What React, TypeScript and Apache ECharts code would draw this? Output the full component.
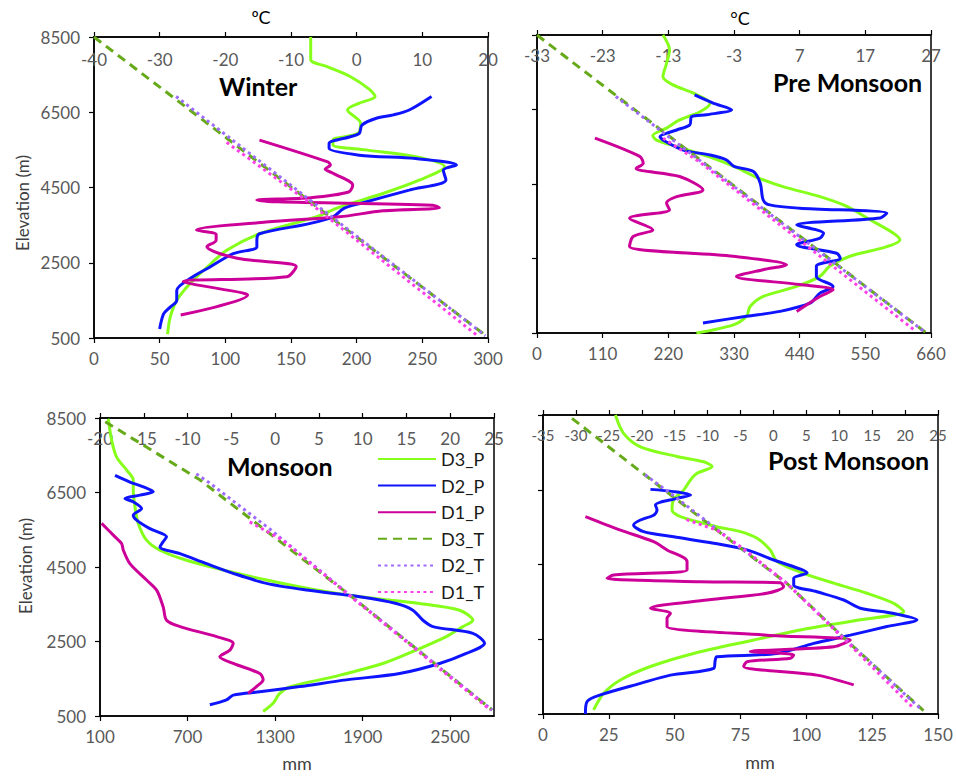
import React, { useEffect, useRef } from "react";
import * as echarts from "echarts";

// ---------- tick labels ----------
const ELEV_TICKS = [500, 2500, 4500, 6500, 8500];
const MONSOON_MM_TICKS = [100, 700, 1300, 1900, 2500];
const PRE_T_TICKS = [-33, -23, -13, -3, 7, 17, 27];
const SERIES_NAMES = ["D3_P", "D2_P", "D1_P", "D3_T", "D2_T", "D1_T"];
const PANEL_TITLES = ["Winter", "Pre Monsoon", "Monsoon", "Post Monsoon"];

// ---------- Winter: [mm, elevation] and [°C, elevation] ----------
const WINTER_D3_P = [[165,8500],[165,7900],[177,7720],[195,7450],[210,7100],[214,6920],[202,6740],[193,6560],[203,6210],[201,5940],[182,5760],[182,5630],[207,5500],[245,5320],[267,5050],[248,4700],[220,4340],[187,3980],[169,3720],[126,3270],[101,2830],[86,2380],[73,1940],[63,1500],[58,1050],[56,600]];
const WINTER_D2_P = [[257,6920],[240,6560],[228,6430],[215,6340],[204,6160],[202,5940],[195,5850],[179,5670],[179,5540],[202,5360],[245,5270],[276,5100],[266,4960],[268,4700],[240,4430],[202,4070],[190,3940],[182,3720],[164,3540],[126,3270],[124,3100],[124,2920],[106,2740],[88,2380],[75,2120],[63,1760],[63,1500],[58,1320],[53,1140],[50,740]];
const WINTER_D1_P = [[126,5760],[178,5180],[180,5100],[176,4990],[182,4880],[197,4560],[194,4380],[165,4230],[124,4170],[140,4120],[258,4030],[263,3960],[220,3880],[187,3720],[131,3580],[78,3370],[93,3250],[93,3100],[86,2930],[109,2620],[154,2400],[147,2130],[68,2000],[113,1700],[117,1640],[66,1110]];
const WINTER_D3_T = [[-40,8500],[19.7,560]];
const WINTER_D2_T = [[-27.5,6920],[19.6,560]];
const WINTER_D1_T = [[-19.8,5700],[-7.6,4150],[18.4,560]];

// ---------- Pre Monsoon ----------
const PRE_D3_P = [[211,8500],[222,8100],[217,7740],[211,7380],[228,7160],[262,6940],[290,6670],[273,6440],[239,6220],[217,6000],[194,5800],[200,5680],[240,5480],[290,5220],[330,4970],[365,4700],[412,4430],[474,4160],[519,3900],[558,3540],[597,3180],[608,3000],[586,2820],[524,2560],[490,2290],[474,2020],[435,1750],[379,1480],[357,1210],[351,950],[329,720],[267,500]];
const PRE_D2_P = [[264,6890],[295,6670],[326,6490],[284,6360],[259,6310],[256,6090],[234,5950],[206,5770],[211,5680],[245,5410],[290,5280],[317,5150],[330,4970],[362,4840],[374,4520],[379,4070],[390,3940],[440,3850],[586,3720],[575,3590],[435,3400],[480,3180],[474,3050],[435,2870],[502,2640],[508,2510],[468,2290],[468,2020],[496,1750],[474,1570],[457,1300],[407,1080],[351,950],[278,770]];
const PRE_D1_P = [[97,5730],[172,5240],[178,5060],[166,4920],[239,4700],[278,4340],[234,4160],[217,3990],[222,3810],[155,3580],[194,3270],[161,3090],[155,2820],[329,2560],[418,2330],[379,2200],[334,2020],[440,1800],[496,1660],[474,1480],[435,1080]];
const PRE_D3_T = [[-33,8500],[26.3,500]];
const PRE_D2_T = [[-21,6850],[25.8,560]];
const PRE_D1_T = [[-13.8,5730],[-8.3,5100],[24.6,560]];

// ---------- Monsoon ----------
const MONSOON_D3_P = [[157,8480],[180,7900],[214,7450],[283,7100],[328,6830],[328,6560],[340,6110],[362,5670],[419,5220],[511,4950],[693,4680],[944,4420],[1241,4150],[1583,3880],[1880,3700],[2290,3520],[2564,3340],[2655,3070],[2587,2900],[2473,2630],[2267,2270],[2039,1910],[1697,1550],[1400,1280],[1330,1100],[1286,840],[1218,620]];
const MONSOON_D2_P = [[203,6960],[305,6780],[397,6650],[465,6520],[374,6430],[271,6340],[328,6250],[385,6070],[328,5890],[351,5760],[442,5530],[556,5310],[533,5180],[511,5040],[648,4860],[830,4590],[1013,4330],[1241,4060],[1515,3880],[1880,3700],[2130,3520],[2244,3340],[2313,3070],[2381,2900],[2655,2720],[2735,2450],[2610,2180],[2427,1910],[2153,1640],[1788,1470],[1469,1290],[1195,1150],[1013,1060],[967,930],[853,800]];
const MONSOON_D1_P = [[111,5670],[203,5310],[248,5130],[260,4950],[305,4590],[419,4150],[488,3880],[533,3430],[556,3070],[648,2900],[899,2630],[1013,2450],[990,2270],[921,2090],[1013,1910],[1195,1640],[1218,1470],[1172,1290],[1115,1110]];
const MONSOON_D3_T = [[-19.4,8400],[-8.6,6840],[8.5,3750],[24.8,660]];
const MONSOON_D2_T = [[-9,7000],[-7.5,6760],[-0.5,5500],[8.5,3750],[24.8,660]];
const MONSOON_D1_T = [[-2.9,5710],[0.8,5230],[8.4,3750],[24.6,660]];

// ---------- Post Monsoon ----------
const POST_D3_P = [[27.5,8500],[30.6,8010],[37,7650],[50.9,7390],[61,7250],[64.2,7120],[58.5,6940],[56,6760],[53.4,6490],[49.6,6230],[49,5960],[52.2,5780],[66,5510],[75,5380],[81.3,5200],[86.3,4890],[88.9,4580],[99,4260],[110.4,4000],[123,3730],[133.2,3460],[137,3240],[120.5,3020],[97.7,2750],[80,2480],[57.2,2120],[40.8,1770],[29.4,1410],[23,1050],[19.2,610]];
const POST_D2_P = [[40.8,6510],[49.6,6450],[56,6360],[50.9,6270],[42.7,6090],[43.3,5960],[42,5820],[37,5690],[34.4,5560],[38.2,5380],[49.6,5240],[64.8,5070],[77.5,4890],[87.6,4620],[95.2,4440],[100.3,4280],[95.2,4130],[95.2,3950],[104,3770],[114.2,3550],[120.5,3330],[133.2,3190],[142,3020],[130.6,2840],[116.7,2610],[102.8,2390],[88.9,2120],[66,2030],[65.4,1940],[64.8,1720],[48.4,1540],[37,1320],[21.8,1010],[16.7,830],[16.1,500]];
const POST_D1_P = [[16.1,5780],[29.4,5420],[42,5110],[47.1,4890],[54.7,4580],[54.7,4350],[26.8,4220],[24.3,4130],[59.7,4040],[90.1,4010],[91.4,3910],[85,3730],[62.3,3550],[40.8,3330],[48.4,3190],[47.1,3060],[47.1,2840],[85,2610],[116.7,2480],[110.4,2300],[78.7,2170],[95.2,2080],[94,1990],[77.5,1900],[76.2,1770],[104,1540],[118,1280]];
const POST_D3_T = [[-30.6,8410],[-15.3,6320],[2.0,4000],[11.6,2390],[22.8,590]];
const POST_D2_T = [[-19.5,6900],[-15.0,6320],[2.0,4000],[11.6,2390],[22.6,600]];
const POST_D1_T = [[-13.2,5700],[-8.6,5420],[-4.3,4890],[2.0,4000],[11.4,2390],[21.3,650]];

const PANEL_DATA = [
  [WINTER_D3_P, WINTER_D2_P, WINTER_D1_P, WINTER_D3_T, WINTER_D2_T, WINTER_D1_T],
  [PRE_D3_P, PRE_D2_P, PRE_D1_P, PRE_D3_T, PRE_D2_T, PRE_D1_T],
  [MONSOON_D3_P, MONSOON_D2_P, MONSOON_D1_P, MONSOON_D3_T, MONSOON_D2_T, MONSOON_D1_T],
  [POST_D3_P, POST_D2_P, POST_D1_P, POST_D3_T, POST_D2_T, POST_D1_T],
];

// ---------- layout / style ----------
const FONT = "Lato";
const GRIDS = [
  { left: 94, top: 37, width: 394, height: 301 },
  { left: 537, top: 35, width: 394, height: 298 },
  { left: 100, top: 418, width: 394, height: 298 },
  { left: 543, top: 415, width: 395, height: 299 },
];
const PRECIP_AXES: any[] = [
  { min: 0, max: 300, interval: 50 },
  { min: 0, max: 660, interval: 110 },
  { min: 100, max: 2800, custom: MONSOON_MM_TICKS },
  { min: 0, max: 150, interval: 25 },
];
const TEMP_AXES: any[] = [
  { min: -40, max: 20, interval: 10, size: 17, margin: 14 },
  { min: -33, max: 27, custom: PRE_T_TICKS, size: 17, margin: 12 },
  { min: -20, max: 25, interval: 5, size: 17, margin: 12 },
  { min: -35, max: 25, interval: 5, size: 15, margin: 12 },
];
const SERIES_STYLE: any[] = [
  { color: "#86FF1A", type: "solid" },
  { color: "#0F14FF", type: "solid" },
  { color: "#CC0099", type: "solid" },
  { color: "#66AA1A", type: [9, 6] },
  { color: "#9F6BFF", type: [3, 3.5] },
  { color: "#FF3FE8", type: [3, 3.5] },
];
const TITLE_POS = [
  { x: 219, y: 86 },
  { x: 773, y: 82 },
  { x: 227, y: 466 },
  { x: 768, y: 460 },
];

const plain = (v: number) => String(v);

function axisCommon(extra: any) {
  return {
    type: "value",
    axisLine: { show: true, onZero: false, lineStyle: { color: "#000", width: 1.5 } },
    splitLine: { show: false },
    ...extra,
  };
}

function tickStyle(custom?: number[]) {
  const t: any = { show: true, inside: false, length: 5, lineStyle: { color: "#000", width: 1.2 } };
  if (custom) t.customValues = custom;
  return t;
}

function buildOption() {
  const grid: any[] = [];
  const xAxis: any[] = [];
  const yAxis: any[] = [];
  const series: any[] = [];
  const graphic: any[] = [];
  const labelStyle = { color: "#595959", fontSize: 17, fontFamily: FONT, formatter: plain };

  GRIDS.forEach((g, i) => {
    grid.push({ ...g, show: true, borderColor: "#000", borderWidth: 1.5, backgroundColor: "transparent" });

    const pa = PRECIP_AXES[i];
    const pLabel: any = { ...labelStyle, margin: 12, interval: 0 };
    if (pa.custom) pLabel.customValues = pa.custom;
    xAxis.push(
      axisCommon({
        gridIndex: i,
        position: "bottom",
        min: pa.min,
        max: pa.max,
        ...(pa.interval ? { interval: pa.interval } : {}),
        axisLabel: pLabel,
        axisTick: tickStyle(pa.custom),
      })
    );

    const ta = TEMP_AXES[i];
    const tLabel: any = { ...labelStyle, fontSize: ta.size, inside: true, margin: ta.margin, interval: 0 };
    if (ta.custom) tLabel.customValues = ta.custom;
    xAxis.push(
      axisCommon({
        gridIndex: i,
        position: "top",
        min: ta.min,
        max: ta.max,
        ...(ta.interval ? { interval: ta.interval } : {}),
        axisLabel: tLabel,
        axisTick: tickStyle(ta.custom),
      })
    );

    yAxis.push(
      axisCommon({
        gridIndex: i,
        position: "left",
        min: 500,
        max: 8500,
        axisLabel: { ...labelStyle, show: i % 2 === 0, margin: 14, customValues: ELEV_TICKS },
        axisTick: tickStyle(ELEV_TICKS),
      })
    );

    PANEL_DATA[i].forEach((data, k) => {
      const st = SERIES_STYLE[k];
      const isT = k >= 3;
      series.push({
        type: "line",
        name: SERIES_NAMES[k],
        data,
        xAxisIndex: i * 2 + (isT ? 1 : 0),
        yAxisIndex: i,
        smooth: isT ? false : 0.3,
        symbol: "none",
        lineStyle: { color: st.color, width: 3, type: st.type, cap: "butt" },
        itemStyle: { color: st.color },
        z: 2 + k,
      });
    });

    graphic.push({
      type: "text",
      x: TITLE_POS[i].x,
      y: TITLE_POS[i].y,
      z: 50,
      style: {
        text: PANEL_TITLES[i],
        font: `bold 25px ${FONT}`,
        fill: "#000",
        align: "left",
        verticalAlign: "middle",
        textAlign: "left",
        textVerticalAlign: "middle",
      },
    });
  });

  const simpleText = (text: string, x: number, y: number, size: number, color: string, rot = 0) => ({
    type: "text",
    x,
    y,
    rotation: rot,
    z: 50,
    style: {
      text,
      font: `${size}px ${FONT}`,
      fill: color,
      align: "center",
      verticalAlign: "middle",
      textAlign: "center",
      textVerticalAlign: "middle",
    },
  });
  graphic.push(simpleText("ºC", 261, 17, 18, "#000"));
  graphic.push(simpleText("°C", 740, 18, 18, "#000"));
  graphic.push(simpleText("mm", 297, 763, 18, "#404040"));
  graphic.push(simpleText("mm", 760, 762, 18, "#404040"));
  graphic.push(simpleText("Elevation (m)", 22, 203, 17, "#404040", Math.PI / 2));
  graphic.push(simpleText("Elevation (m)", 25, 566, 17, "#404040", Math.PI / 2));

  return {
    animation: false,
    backgroundColor: "#fff",
    textStyle: { fontFamily: FONT },
    grid,
    xAxis,
    yAxis,
    series,
    graphic,
    legend: {
      data: SERIES_NAMES,
      orient: "vertical",
      left: 377,
      top: 450,
      itemWidth: 58,
      itemHeight: 3,
      itemGap: 8.6,
      padding: 0,
      itemStyle: { opacity: 0 },
      textStyle: { fontSize: 18, fontFamily: FONT, color: "#1a1a1a", lineHeight: 17 },
    },
  };
}

export default function App() {
  const ref = useRef<HTMLDivElement>(null);
  useEffect(() => {
    if (!ref.current) return;
    const chart = echarts.init(ref.current, null, { renderer: "svg" });
    chart.setOption(buildOption() as any);
    return () => chart.dispose();
  }, []);
  return (
    <div
      ref={ref}
      style={{ position: "absolute", left: 0, top: 0, width: 956, height: 776, background: "#fff" }}
    />
  );
}
